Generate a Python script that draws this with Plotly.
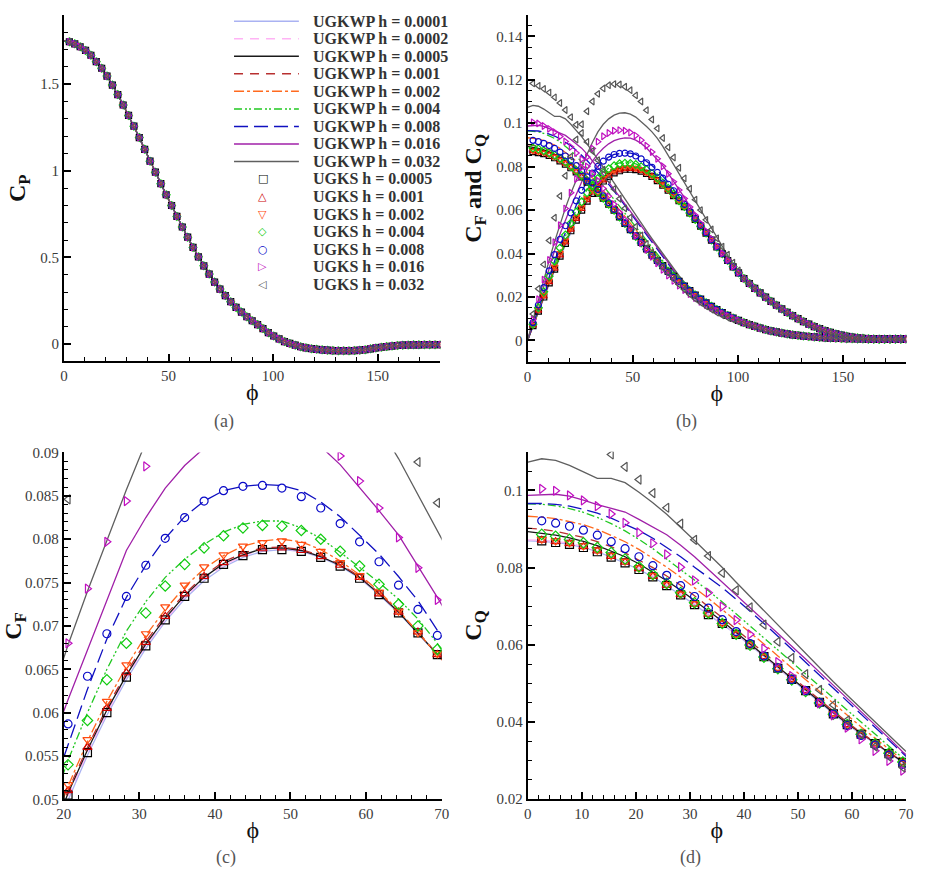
import plotly.graph_objects as go

# ---------------- data ----------------
PHI = [2.57, 5.14, 7.71, 10.29, 12.86, 15.43, 18.0, 20.57, 23.14, 25.71,
       28.29, 30.86, 33.43, 36.0, 38.57, 41.14, 43.71, 46.29, 48.86, 51.43,
       54.0, 56.57, 59.14, 61.71, 64.29, 66.86, 69.43, 72.0, 74.57, 77.14,
       79.71, 82.29, 84.86, 87.43, 90.0, 92.57, 95.14, 97.71, 100.29, 102.86,
       105.43, 108.0, 110.57, 113.14, 115.71, 118.29, 120.86, 123.43, 126.0, 128.57,
       131.14, 133.71, 136.29, 138.86, 141.43, 144.0, 146.57, 149.14, 151.71, 154.29,
       156.86, 159.43, 162.0, 164.57, 167.14, 169.71, 172.29, 174.86, 177.43, 180.0]
PHI_LINE = [0.0] + PHI

CP0 = 1.75
CP = [1.745, 1.733, 1.716, 1.695, 1.667, 1.630, 1.592, 1.547, 1.495, 1.440,
      1.380, 1.320, 1.258, 1.192, 1.124, 1.056, 0.992, 0.926, 0.862, 0.800,
      0.737, 0.676, 0.617, 0.558, 0.504, 0.452, 0.404, 0.358, 0.318, 0.280,
      0.245, 0.212, 0.185, 0.158, 0.135, 0.113, 0.090, 0.066, 0.047, 0.030,
      0.015, 0.004, -0.006, -0.015, -0.021, -0.026, -0.030, -0.033, -0.035, -0.037,
      -0.038, -0.038, -0.038, -0.037, -0.035, -0.032, -0.027, -0.022, -0.018, -0.014,
      -0.011, -0.008, -0.006, -0.005, -0.004, -0.004, -0.003, -0.003, -0.003, -0.003]

# common tails (phi = 72 ... 180), all resolutions coincide there
CF_TAIL = [0.0643, 0.0616, 0.0587, 0.0557, 0.0526, 0.0494, 0.0462, 0.0430, 0.0399, 0.0368,
           0.0339, 0.0311, 0.0285, 0.0262, 0.0240, 0.0219, 0.0199, 0.0180, 0.0162, 0.0145,
           0.0129, 0.0114, 0.0100, 0.0087, 0.0075, 0.0064, 0.0054, 0.0045, 0.0037, 0.0030,
           0.0024, 0.0019, 0.0015, 0.0012, 0.0010, 0.0008, 0.0007, 0.0006, 0.0006, 0.0006,
           0.0007, 0.0007, 0.0007]
CQ_TAIL = [0.0272, 0.0250, 0.0229, 0.0209, 0.0190, 0.0173, 0.0157, 0.0142, 0.0128, 0.0115,
           0.0103, 0.0092, 0.0082, 0.0073, 0.0065, 0.0057, 0.0050, 0.0044, 0.0039, 0.0034,
           0.0030, 0.0026, 0.0023, 0.0020, 0.0018, 0.0016, 0.0014, 0.0012, 0.0011, 0.0010,
           0.0009, 0.0008, 0.0008, 0.0007, 0.0007, 0.0006, 0.0006, 0.0006, 0.0006, 0.0006,
           0.0006, 0.0006, 0.0006]

# UGKWP lines, phi = 0 ... 69.43
CF_W0001 = [0, 0.0066, 0.0132, 0.0196, 0.0260, 0.0322, 0.0382, 0.0441, 0.0499, 0.0551, 0.0597, 0.0638, 0.0674, 0.0705,
            0.0731, 0.0752, 0.0768, 0.0779, 0.0786, 0.0788, 0.0786, 0.0779, 0.0769, 0.0755, 0.0736, 0.0715, 0.0691, 0.0666]
CF_W0002 = [0, 0.0067, 0.0134, 0.0198, 0.0262, 0.0325, 0.0385, 0.0445, 0.0503, 0.0554, 0.0600, 0.0641, 0.0677, 0.0707,
            0.0733, 0.0754, 0.0770, 0.0781, 0.0788, 0.0789, 0.0787, 0.0780, 0.0770, 0.0756, 0.0737, 0.0716, 0.0692, 0.0667]
CF_W0005 = [0, 0.0068, 0.0135, 0.0200, 0.0265, 0.0328, 0.0389, 0.0448, 0.0507, 0.0557, 0.0603, 0.0643, 0.0679, 0.0709,
            0.0735, 0.0756, 0.0772, 0.0782, 0.0789, 0.0790, 0.0787, 0.0780, 0.0770, 0.0756, 0.0737, 0.0716, 0.0692, 0.0667]
CF_W001 = [0, 0.0069, 0.0137, 0.0203, 0.0268, 0.0331, 0.0392, 0.0451, 0.0510, 0.0560, 0.0606, 0.0646, 0.0682, 0.0712,
           0.0737, 0.0758, 0.0774, 0.0784, 0.0790, 0.0791, 0.0788, 0.0781, 0.0771, 0.0757, 0.0738, 0.0717, 0.0693, 0.0667]
CF_W002 = [0, 0.0070, 0.0139, 0.0207, 0.0273, 0.0337, 0.0399, 0.0458, 0.0515, 0.0567, 0.0613, 0.0653, 0.0689, 0.0719,
           0.0745, 0.0766, 0.0781, 0.0792, 0.0798, 0.0800, 0.0797, 0.0788, 0.0775, 0.0759, 0.0740, 0.0718, 0.0693, 0.0667]
CF_W004 = [0, 0.0072, 0.0143, 0.0213, 0.0282, 0.0348, 0.0414, 0.0481, 0.0545, 0.0600, 0.0650, 0.0694, 0.0728, 0.0756,
           0.0777, 0.0794, 0.0808, 0.0817, 0.0821, 0.0821, 0.0813, 0.0801, 0.0785, 0.0768, 0.0750, 0.0731, 0.0708, 0.0680]
CF_W008 = [0, 0.0075, 0.0150, 0.0224, 0.0296, 0.0366, 0.0434, 0.0499, 0.0563, 0.0627, 0.0685, 0.0733, 0.0770, 0.0801,
           0.0826, 0.0844, 0.0856, 0.0861, 0.0863, 0.0862, 0.0856, 0.0843, 0.0826, 0.0805, 0.0783, 0.0757, 0.0729, 0.0695]
CF_W016 = [0, 0.0085, 0.0170, 0.0255, 0.0338, 0.0415, 0.0490, 0.0555, 0.0615, 0.0672, 0.0730, 0.0787, 0.0825, 0.0859,
           0.0885, 0.0905, 0.0920, 0.0928, 0.0932, 0.0931, 0.0922, 0.0907, 0.0886, 0.0860, 0.0833, 0.0805, 0.0769, 0.0733]
CF_W032 = [0, 0.0095, 0.0190, 0.0280, 0.0370, 0.0455, 0.0535, 0.0610, 0.0678, 0.0740, 0.0799, 0.0857, 0.0912, 0.0960,
           0.0995, 0.1020, 0.1037, 0.1046, 0.1048, 0.1042, 0.1028, 0.1008, 0.0985, 0.0960, 0.0930, 0.0893, 0.0851, 0.0810]
CF_W008_T = [0.0662, 0.0628, 0.0595, 0.0562, 0.0529, 0.0496, 0.0463, 0.0431, 0.0399, 0.0368, 0.0339, 0.0311]
CF_W016_T = [0.0695, 0.0657, 0.0618, 0.0580, 0.0542, 0.0505, 0.0469, 0.0434, 0.0401, 0.0370, 0.0340, 0.0312]
CF_W032_T = [0.0768, 0.0727, 0.0686, 0.0645, 0.0603, 0.0560, 0.0516, 0.0472, 0.0430, 0.0390, 0.0350, 0.0315]

CQ_W0001 = [0.0869, 0.0868, 0.0865, 0.0860, 0.0852, 0.0841, 0.0827, 0.0812, 0.0795, 0.0776, 0.0753, 0.0729, 0.0704, 0.0678,
            0.0654, 0.0627, 0.0599, 0.0569, 0.0539, 0.0510, 0.0480, 0.0450, 0.0421, 0.0393, 0.0368, 0.0344, 0.0318, 0.0295]
CQ_W0002 = [0.0872, 0.0871, 0.0868, 0.0863, 0.0855, 0.0844, 0.0831, 0.0816, 0.0799, 0.0779, 0.0757, 0.0733, 0.0708, 0.0681,
            0.0656, 0.0629, 0.0601, 0.0571, 0.0541, 0.0511, 0.0481, 0.0451, 0.0422, 0.0394, 0.0369, 0.0344, 0.0319, 0.0296]
CQ_W0005 = [0.0893, 0.0889, 0.0884, 0.0877, 0.0868, 0.0857, 0.0843, 0.0828, 0.0810, 0.0789, 0.0766, 0.0741, 0.0715, 0.0688,
            0.0661, 0.0632, 0.0603, 0.0573, 0.0543, 0.0513, 0.0483, 0.0453, 0.0424, 0.0396, 0.0370, 0.0345, 0.0320, 0.0297]
CQ_W001 = [0.0902, 0.0899, 0.0894, 0.0887, 0.0878, 0.0867, 0.0854, 0.0838, 0.0820, 0.0800, 0.0778, 0.0754, 0.0727, 0.0699,
           0.0670, 0.0640, 0.0610, 0.0580, 0.0549, 0.0518, 0.0487, 0.0457, 0.0427, 0.0399, 0.0372, 0.0346, 0.0321, 0.0298]
CQ_W002 = [0.0933, 0.0931, 0.0927, 0.0920, 0.0911, 0.0899, 0.0884, 0.0867, 0.0847, 0.0825, 0.0801, 0.0775, 0.0748, 0.0720,
           0.0691, 0.0662, 0.0632, 0.0602, 0.0571, 0.0540, 0.0509, 0.0478, 0.0447, 0.0417, 0.0387, 0.0358, 0.0329, 0.0301]
CQ_W004 = [0.0965, 0.0964, 0.0960, 0.0953, 0.0943, 0.0930, 0.0914, 0.0895, 0.0873, 0.0849, 0.0822, 0.0795, 0.0767, 0.0740,
           0.0711, 0.0680, 0.0649, 0.0618, 0.0586, 0.0555, 0.0524, 0.0493, 0.0462, 0.0431, 0.0400, 0.0369, 0.0337, 0.0306]
CQ_W008 = [0.0966, 0.0966, 0.0964, 0.0959, 0.0951, 0.0941, 0.0928, 0.0913, 0.0896, 0.0876, 0.0853, 0.0828, 0.0801, 0.0775,
           0.0748, 0.0718, 0.0687, 0.0655, 0.0622, 0.0588, 0.0554, 0.0520, 0.0486, 0.0452, 0.0418, 0.0384, 0.0350, 0.0316]
CQ_W016 = [0.0987, 0.0989, 0.0990, 0.0985, 0.0975, 0.0963, 0.0953, 0.0944, 0.0925, 0.0905, 0.0885, 0.0858, 0.0828, 0.0795,
           0.0762, 0.0729, 0.0697, 0.0664, 0.0630, 0.0597, 0.0563, 0.0529, 0.0495, 0.0461, 0.0427, 0.0393, 0.0358, 0.0322]
CQ_W032 = [0.1073, 0.1082, 0.1078, 0.1065, 0.1048, 0.1031, 0.1031, 0.1020, 0.0995, 0.0968, 0.0938, 0.0905, 0.0870, 0.0835,
           0.0800, 0.0762, 0.0725, 0.0688, 0.0650, 0.0613, 0.0576, 0.0540, 0.0504, 0.0469, 0.0434, 0.0399, 0.0364, 0.0331]
CQ_W008_T = [0.0285, 0.0259, 0.0235, 0.0213, 0.0193, 0.0175, 0.0159, 0.0144, 0.0130, 0.0116, 0.0104, 0.0092]
CQ_W016_T = [0.0290, 0.0262, 0.0237, 0.0214, 0.0194, 0.0176, 0.0160, 0.0145, 0.0131, 0.0118, 0.0105, 0.0093]
CQ_W032_T = [0.0298, 0.0268, 0.0241, 0.0217, 0.0196, 0.0177, 0.0160, 0.0145, 0.0131, 0.0118, 0.0105, 0.0093]

# UGKS symbols, phi = 2.57 ... 69.43
CF_S0005 = [0.0068, 0.0135, 0.0200, 0.0265, 0.0328, 0.0388, 0.0447, 0.0505, 0.0554, 0.0600, 0.0641, 0.0677, 0.0707, 0.0734,
            0.0755, 0.0771, 0.0781, 0.0788, 0.0788, 0.0786, 0.0779, 0.0769, 0.0755, 0.0736, 0.0715, 0.0692, 0.0667]
CF_S001 = [0.0069, 0.0137, 0.0203, 0.0268, 0.0331, 0.0392, 0.0451, 0.0510, 0.0560, 0.0605, 0.0646, 0.0681, 0.0711, 0.0737,
           0.0757, 0.0773, 0.0783, 0.0789, 0.0790, 0.0787, 0.0780, 0.0770, 0.0756, 0.0737, 0.0716, 0.0693, 0.0667]
CF_S002 = [0.0071, 0.0141, 0.0209, 0.0276, 0.0340, 0.0402, 0.0461, 0.0517, 0.0569, 0.0613, 0.0655, 0.0691, 0.0722, 0.0747,
           0.0768, 0.0782, 0.0792, 0.0796, 0.0798, 0.0794, 0.0786, 0.0773, 0.0758, 0.0739, 0.0717, 0.0692, 0.0668]
CF_S004 = [0.0075, 0.0150, 0.0224, 0.0296, 0.0365, 0.0426, 0.0485, 0.0540, 0.0591, 0.0638, 0.0680, 0.0715, 0.0746, 0.0771,
           0.0790, 0.0804, 0.0813, 0.0816, 0.0815, 0.0810, 0.0800, 0.0786, 0.0769, 0.0748, 0.0725, 0.0700, 0.0673]
CF_S008 = [0.0082, 0.0163, 0.0243, 0.0320, 0.0395, 0.0465, 0.0528, 0.0587, 0.0642, 0.0691, 0.0734, 0.0770, 0.0801, 0.0825,
           0.0844, 0.0856, 0.0861, 0.0862, 0.0859, 0.0849, 0.0836, 0.0818, 0.0797, 0.0774, 0.0747, 0.0719, 0.0689]
CF_S016 = [0.0095, 0.0190, 0.0280, 0.0370, 0.0452, 0.0530, 0.0607, 0.0680, 0.0743, 0.0797, 0.0844, 0.0884, 0.0915, 0.0940,
           0.0955, 0.0965, 0.0968, 0.0965, 0.0957, 0.0943, 0.0922, 0.0896, 0.0867, 0.0836, 0.0802, 0.0767, 0.0730]
CF_S032 = [0.0122, 0.0238, 0.0350, 0.0460, 0.0565, 0.0665, 0.0758, 0.0846, 0.0925, 0.0995, 0.1055, 0.1100, 0.1135, 0.1160,
           0.1175, 0.1180, 0.1178, 0.1168, 0.1152, 0.1128, 0.1100, 0.1060, 0.1017, 0.0976, 0.0932, 0.0889, 0.0842]
CF_S008_T = [0.0657, 0.0626, 0.0594, 0.0562, 0.0529, 0.0496, 0.0463, 0.0431, 0.0399, 0.0368, 0.0339, 0.0311]
CF_S016_T = [0.0692, 0.0653, 0.0614, 0.0576, 0.0539, 0.0503, 0.0468, 0.0434, 0.0401, 0.0370, 0.0340, 0.0312]
CF_S032_T = [0.0795, 0.0746, 0.0698, 0.0648, 0.0600, 0.0555, 0.0511, 0.0470, 0.0432, 0.0395, 0.0358, 0.0322]

CQ_S0005 = [0.0869, 0.0865, 0.0860, 0.0852, 0.0841, 0.0827, 0.0812, 0.0795, 0.0776, 0.0753, 0.0729, 0.0704, 0.0678, 0.0655,
            0.0627, 0.0600, 0.0569, 0.0539, 0.0510, 0.0481, 0.0451, 0.0421, 0.0393, 0.0368, 0.0344, 0.0318, 0.0295]
CQ_S001 = [0.0871, 0.0867, 0.0862, 0.0854, 0.0843, 0.0829, 0.0814, 0.0797, 0.0777, 0.0754, 0.0730, 0.0705, 0.0679, 0.0655,
           0.0627, 0.0600, 0.0569, 0.0539, 0.0510, 0.0481, 0.0451, 0.0421, 0.0393, 0.0367, 0.0343, 0.0318, 0.0295]
CQ_S002 = [0.0873, 0.0869, 0.0864, 0.0856, 0.0845, 0.0831, 0.0816, 0.0799, 0.0779, 0.0756, 0.0731, 0.0706, 0.0680, 0.0656,
           0.0628, 0.0600, 0.0569, 0.0539, 0.0510, 0.0481, 0.0451, 0.0421, 0.0393, 0.0367, 0.0342, 0.0317, 0.0294]
CQ_S004 = [0.0886, 0.0881, 0.0873, 0.0864, 0.0852, 0.0839, 0.0822, 0.0802, 0.0782, 0.0759, 0.0735, 0.0709, 0.0682, 0.0655,
           0.0627, 0.0599, 0.0568, 0.0538, 0.0509, 0.0479, 0.0449, 0.0420, 0.0393, 0.0368, 0.0343, 0.0319, 0.0296]
CQ_S008 = [0.0921, 0.0915, 0.0907, 0.0897, 0.0884, 0.0867, 0.0849, 0.0828, 0.0805, 0.0780, 0.0753, 0.0725, 0.0695, 0.0665,
           0.0634, 0.0603, 0.0571, 0.0540, 0.0510, 0.0481, 0.0450, 0.0420, 0.0391, 0.0365, 0.0340, 0.0314, 0.0290]
CQ_S016 = [0.1004, 0.0999, 0.0987, 0.0974, 0.0959, 0.0939, 0.0916, 0.0891, 0.0863, 0.0834, 0.0801, 0.0767, 0.0735, 0.0699,
           0.0664, 0.0627, 0.0590, 0.0555, 0.0519, 0.0482, 0.0448, 0.0417, 0.0385, 0.0355, 0.0325, 0.0299, 0.0274]
CQ_S032 = [0.1183, 0.1172, 0.1158, 0.1141, 0.1119, 0.1093, 0.1061, 0.1028, 0.0993, 0.0955, 0.0914, 0.0872, 0.0830, 0.0786,
           0.0741, 0.0697, 0.0652, 0.0608, 0.0566, 0.0524, 0.0483, 0.0444, 0.0404, 0.0368, 0.0336, 0.0310, 0.0282]
CQ_S016_T = [0.0252, 0.0232, 0.0213, 0.0195, 0.0178, 0.0163, 0.0149, 0.0136, 0.0124, 0.0113, 0.0102, 0.0092]
CQ_S032_T = [0.0257, 0.0234, 0.0212, 0.0192, 0.0174, 0.0157, 0.0142, 0.0128, 0.0116, 0.0105, 0.0096, 0.0088]

LINE_NAMES = ["UGKWP h = 0.0001", "UGKWP h = 0.0002", "UGKWP h = 0.0005", "UGKWP h = 0.001", "UGKWP h = 0.002",
              "UGKWP h = 0.004", "UGKWP h = 0.008", "UGKWP h = 0.016", "UGKWP h = 0.032"]
MARK_NAMES = ["UGKS h = 0.0005", "UGKS h = 0.001", "UGKS h = 0.002", "UGKS h = 0.004",
              "UGKS h = 0.008", "UGKS h = 0.016", "UGKS h = 0.032"]
MARK_GLYPHS = ["□", "△", "▽", "◇", "○", "▷", "◁"]

# ---------------- assemble series ----------------
LINE_CF = [CF_W0001 + CF_TAIL, CF_W0002 + CF_TAIL, CF_W0005 + CF_TAIL, CF_W001 + CF_TAIL, CF_W002 + CF_TAIL,
           CF_W004 + CF_TAIL, CF_W008 + CF_W008_T + CF_TAIL[12:], CF_W016 + CF_W016_T + CF_TAIL[12:],
           CF_W032 + CF_W032_T + CF_TAIL[12:]]
LINE_CQ = [CQ_W0001 + CQ_TAIL, CQ_W0002 + CQ_TAIL, CQ_W0005 + CQ_TAIL, CQ_W001 + CQ_TAIL, CQ_W002 + CQ_TAIL,
           CQ_W004 + CQ_TAIL, CQ_W008 + CQ_W008_T + CQ_TAIL[12:], CQ_W016 + CQ_W016_T + CQ_TAIL[12:],
           CQ_W032 + CQ_W032_T + CQ_TAIL[12:]]
MARK_CF = [CF_S0005 + CF_TAIL, CF_S001 + CF_TAIL, CF_S002 + CF_TAIL, CF_S004 + CF_TAIL,
           CF_S008 + CF_S008_T + CF_TAIL[12:], CF_S016 + CF_S016_T + CF_TAIL[12:], CF_S032 + CF_S032_T + CF_TAIL[12:]]
MARK_CQ = [CQ_S0005 + CQ_TAIL, CQ_S001 + CQ_TAIL, CQ_S002 + CQ_TAIL, CQ_S004 + CQ_TAIL,
           CQ_S008 + CQ_TAIL, CQ_S016 + CQ_S016_T + CQ_TAIL[12:], CQ_S032 + CQ_S032_T + CQ_TAIL[12:]]

# ---------------- styles ----------------
LINE_COLORS = ["#aab2f2", "#ffb3f5", "#1a1a1a", "#b83030", "#ff6a1f", "#22c822", "#1010c0", "#a020a8", "#5f5f5f"]
LINE_DASHES = ["solid", "9px,7px", "solid", "9px,7px", "10px,3px,3px,3px", "8px,3px,2px,2px,2px,3px",
               "14px,6px", "solid", "solid"]
MARK_COLORS = ["#000000", "#cc0000", "#ff4a10", "#10cc10", "#0a0ac8", "#c010c0", "#555555"]
MARK_SYMBOLS = ["square-open", "triangle-up-open", "triangle-down-open", "diamond-open",
                "circle-open", "triangle-right-open", "triangle-left-open"]

SERIF = "Liberation Serif"
fig = go.Figure()


def add_panel(xa, ya, xl, yl_lines, xm, yl_marks, msize):
    for i in range(len(LINE_NAMES)):
        fig.add_trace(go.Scatter(x=xl, y=yl_lines[i], mode="lines", name=LINE_NAMES[i],
                                 line=dict(color=LINE_COLORS[i], dash=LINE_DASHES[i], width=1.3),
                                 xaxis=xa, yaxis=ya, showlegend=False))
    for i in range(len(MARK_NAMES)):
        fig.add_trace(go.Scatter(x=xm, y=yl_marks[i], mode="markers", name=MARK_NAMES[i],
                                 marker=dict(symbol=MARK_SYMBOLS[i], size=msize, color=MARK_COLORS[i],
                                             line=dict(width=1.2, color=MARK_COLORS[i])),
                                 xaxis=xa, yaxis=ya, showlegend=False))


# (a) Cp
add_panel("x", "y", PHI_LINE, [[CP0] + CP] * 9, PHI, [CP] * 7, 6)
# (b) CF and CQ over 0..180
add_panel("x2", "y2", PHI_LINE + [None] + PHI_LINE,
          [LINE_CF[i] + [None] + LINE_CQ[i] for i in range(9)],
          PHI + [None] + PHI, [MARK_CF[i] + [None] + MARK_CQ[i] for i in range(7)], 6)
# (c) CF zoom
add_panel("x3", "y3", PHI_LINE, LINE_CF, PHI, MARK_CF, 8)
# (d) CQ zoom
add_panel("x4", "y4", PHI_LINE, LINE_CQ, PHI, MARK_CQ, 8)

W, H = 926, 882


def xd(a, b):
    return [a / W, b / W]


def yd(top, bot):
    return [1 - bot / H, 1 - top / H]


tickfont = dict(family=SERIF, size=15, color="#3a3a3a")
titlefont = dict(family=SERIF, size=24, color="#111")


def ax(domain, rng, dtick, minor, anchor, title, tick0=0, standoff=0):
    return dict(domain=domain, range=rng, dtick=dtick, tick0=tick0, anchor=anchor,
                showline=True, linecolor="black", linewidth=2, mirror=False,
                ticks="inside", ticklen=7, tickwidth=1.5, tickcolor="black",
                minor=dict(dtick=minor, tick0=tick0, ticks="inside", ticklen=4, tickwidth=1.2, tickcolor="black"),
                showgrid=False, zeroline=False, tickfont=tickfont,
                title=dict(text=title, font=titlefont, standoff=standoff))


# ---------------- legend (drawn as a key inside panel (a)) ----------------
LEG_TOP, LEG_STEP = 13.5, 17.85
shapes, annotations = [], []
legfont = dict(family=SERIF, size=16, color="#333", weight="bold")
for i, name in enumerate(LINE_NAMES):
    yp = 1 - (LEG_TOP + i * LEG_STEP) / H
    shapes.append(dict(type="line", xref="paper", yref="paper", x0=230 / W, x1=296 / W, y0=yp, y1=yp,
                       line=dict(color=LINE_COLORS[i], dash=LINE_DASHES[i], width=1.5)))
    annotations.append(dict(text=name, x=308 / W, y=yp, xref="paper", yref="paper", xanchor="left",
                            yanchor="middle", showarrow=False, font=legfont))
for j, name in enumerate(MARK_NAMES):
    yp = 1 - (LEG_TOP + (9 + j) * LEG_STEP) / H
    annotations.append(dict(text=MARK_GLYPHS[j], x=259 / W, y=yp, xref="paper", yref="paper", xanchor="center",
                            yanchor="middle", showarrow=False,
                            font=dict(family="DejaVu Sans", size=11, color=MARK_COLORS[j])))
    annotations.append(dict(text=name, x=308 / W, y=yp, xref="paper", yref="paper", xanchor="left",
                            yanchor="middle", showarrow=False, font=legfont))

capfont = dict(family=SERIF, size=18, color="#555")
for lab, cx, cy in [("(a)", 220, 421), ("(b)", 690, 421), ("(c)", 222, 865), ("(d)", 695, 865)]:
    annotations.append(dict(text=lab, x=cx / W, y=1 - cy / H, xref="paper", yref="paper", xanchor="center",
                            yanchor="middle", showarrow=False, font=capfont))

PHI_T = "ϕ"
fig.update_layout(
    width=W, height=H, margin=dict(l=0, r=0, t=0, b=0),
    paper_bgcolor="white", plot_bgcolor="white", showlegend=False,
    xaxis=ax(xd(57, 440), [0, 180], 50, 10, "y", PHI_T),
    yaxis=ax(yd(7, 360), [-0.1, 1.9], 0.5, 0.1, "x", "<b>C<sub>P</sub></b>", standoff=8),
    xaxis2=ax(xd(528.7, 914), [0, 180], 50, 10, "y2", PHI_T),
    yaxis2=ax(yd(6.7, 360.7), [-0.01, 0.15], 0.02, 0.005, "x2", "<b>C<sub>F</sub> and C<sub>Q</sub></b>", standoff=8),
    xaxis3=ax(xd(56.7, 441.3), [20, 70], 10, 2, "y3", PHI_T, tick0=20),
    yaxis3=ax(yd(452.7, 806), [0.05, 0.09], 0.005, 0.001, "x3", "<b>C<sub>F</sub></b>", tick0=0.05, standoff=8),
    xaxis4=ax(xd(529, 913.7), [0, 70], 10, 2, "y4", PHI_T),
    yaxis4=ax(yd(452, 805.7), [0.02, 0.11], 0.02, 0.005, "x4", "<b>C<sub>Q</sub></b>", standoff=8),
    shapes=shapes,
    annotations=annotations,
)

fig.write_html("out.html")
